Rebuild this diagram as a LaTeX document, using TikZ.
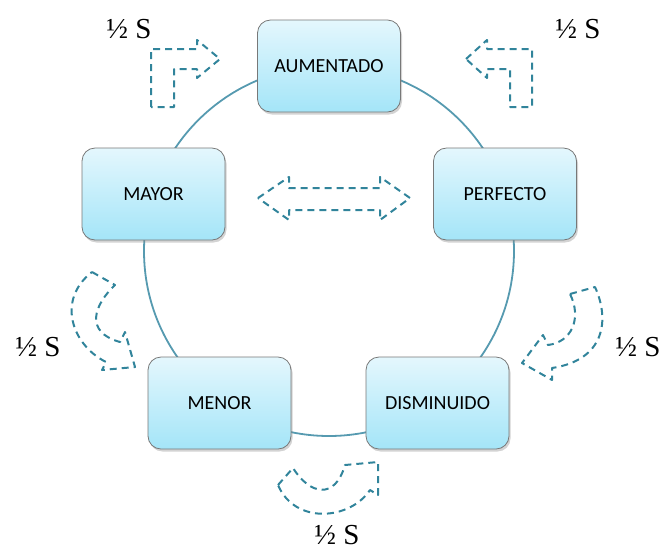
\documentclass[tikz,border=0pt]{standalone}
\usepackage{fontspec}
\setmainfont{Liberation Serif}
\newfontfamily\boxfont{Carlito}
\usetikzlibrary{shadows}
\definecolor{ringcol}{RGB}{86,154,176}
\definecolor{arrcol}{RGB}{49,132,155}
\definecolor{boxtop}{RGB}{228,247,253}
\definecolor{boxbot}{RGB}{164,229,248}
\definecolor{boxline}{RGB}{120,120,120}
\tikzset{
  stepbox/.style={draw=boxline, line width=0.8pt, rounded corners=13pt,
    top color=boxtop, bottom color=boxbot,
    minimum width=143pt, minimum height=92pt, inner sep=0pt,
    font=\boxfont\fontsize{20}{24}\selectfont,
    drop shadow={opacity=0.35, shadow xshift=1.5pt, shadow yshift=-2.5pt}},
  ring/.style={draw=ringcol, line width=1.8pt},
  dasharrow/.style={draw=arrcol, line width=2pt, dash pattern=on 7pt off 5pt, line join=round},
  halfs/.style={anchor=base, font=\fontsize{29}{32}\selectfont, inner sep=0pt}
}
\begin{document}
\begin{tikzpicture}[x=1pt,y=-1pt]
\useasboundingbox (0,0) rectangle (663,550);
% ring
\draw[ring] (329,251) circle (185);
% boxes
\node[stepbox] (aum) at (329,66) {AUMENTADO};
\node[stepbox] (may) at (153.5,194) {MAYOR};
\node[stepbox] (per) at (505,194) {PERFECTO};
\node[stepbox] (men) at (219.5,403) {MENOR};
\node[stepbox] (dis) at (437.5,403) {DISMINUIDO};
% dashed arrows
\draw[dasharrow] (151,107) -- (151,49) -- (197,49) -- (197,40) -- (220,59) -- (197,78) -- (197,69) -- (174,69) -- (174,107) -- cycle;
\draw[dasharrow] (466,59) -- (487,40) -- (487,49) -- (532,49) -- (532,107) -- (510,107) -- (510,69) -- (487,69) -- (487,78) -- cycle;
\draw[dasharrow] (258,198) -- (289,177) -- (289,188) -- (380,188) -- (380,177) -- (410,198) -- (380,220) -- (380,210) -- (289,210) -- (289,220) -- cycle;
\draw[dasharrow] (92,272) -- (115,285) .. controls (94,305) and (84,332) .. (120,342) -- (125,332) -- (135,367) -- (102,370) -- (106,362) .. controls (72,345) and (56,300) .. (92,272) -- cycle;
\draw[dasharrow] (570,294) -- (595,287) .. controls (610,320) and (605,360) .. (552,368) -- (552,380) -- (522,363) -- (543,335) -- (548,345) .. controls (572,342) and (582,318) .. (570,294) -- cycle;
\draw[dasharrow] (278,485) -- (293,468) .. controls (310,495) and (335,500) .. (345,465) -- (378,462) -- (378,495) -- (370,490) .. controls (350,520) and (295,525) .. (278,485) -- cycle;
% labels
\node[halfs] (l1) at (129,38) {½ S};
\node[halfs] (l2) at (578,38) {½ S};
\node[halfs] (l3) at (38,356) {½ S};
\node[halfs] (l4) at (638,356) {½ S};
\node[halfs] (l5) at (337,544) {½ S};
\end{tikzpicture}
\end{document}
